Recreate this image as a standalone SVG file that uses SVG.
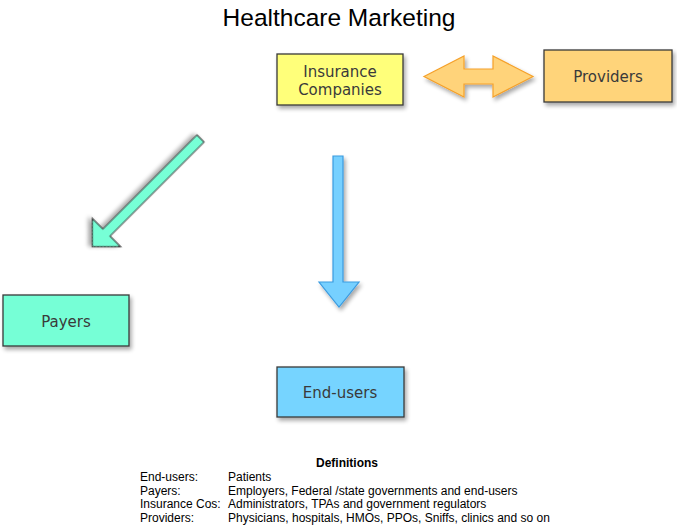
<svg xmlns="http://www.w3.org/2000/svg" width="677" height="527" viewBox="0 0 677 527">
<defs>
<filter id="sh" x="-20%" y="-20%" width="150%" height="160%">
<feGaussianBlur in="SourceAlpha" stdDeviation="2"/>
<feOffset dx="2" dy="3" result="b"/>
<feComponentTransfer><feFuncA type="linear" slope="0.35"/></feComponentTransfer>
<feMerge><feMergeNode/><feMergeNode in="SourceGraphic"/></feMerge>
</filter>
</defs>
<style>
.box{stroke:#3a3a3a;stroke-width:1.3;filter:url(#sh)}
.lbl{font-family:"DejaVu Sans",Verdana,sans-serif;font-size:15px;fill:#3a3a3a;text-anchor:middle}
.def{font-family:"Liberation Sans",Arial,sans-serif;font-size:12px;fill:#000}
</style>
<rect width="677" height="527" fill="#fff"/>
<text x="339" y="26" font-family="Liberation Sans, Arial, sans-serif" font-size="24.5" text-anchor="middle" fill="#000">Healthcare Marketing</text>
<g id="connectors">
<path d="M424,76.5 L464,56 L464,69 L493,69 L493,56 L533,76.5 L493,97 L493,84 L464,84 L464,97 Z" fill="#ffd37a" stroke="#f5a12a" stroke-width="1.2" filter="url(#sh)"/>
<path d="M0,-5 L133,-5 L133,-20 L153,0 L133,20 L133,5 L0,5 Z" transform="translate(200.5,138.5) rotate(135)" fill="#77ffd6" stroke="#3a3a3a" stroke-width="1.2" filter="url(#sh)"/>
<path d="M333,156 L343,156 L343,282 L359,282 L339,307 L319,282 L333,282 Z" fill="#76d0ff" stroke="#3a9be0" stroke-width="1.2" filter="url(#sh)"/>
</g>
<g id="insurance">
<rect class="box" x="277" y="54" width="126" height="51" fill="#ffff7a"/>
<text class="lbl" x="340" y="77">Insurance</text>
<text class="lbl" x="340" y="95">Companies</text>
</g>
<g id="providers">
<rect class="box" x="544" y="50" width="128" height="52" fill="#ffd47a"/>
<text class="lbl" x="608" y="82">Providers</text>
</g>
<g id="payers">
<rect class="box" x="3" y="295" width="126" height="51" fill="#76ffd6"/>
<text class="lbl" x="66" y="327">Payers</text>
</g>
<g id="endusers">
<rect class="box" x="277" y="367" width="127" height="50" fill="#76d4ff"/>
<text class="lbl" x="340" y="398">End-users</text>
</g>
<g id="definitions" class="def">
<text x="347" y="467" text-anchor="middle" font-weight="bold">Definitions</text>
<text x="140" y="481">End-users:</text><text x="228" y="481">Patients</text>
<text x="140" y="495">Payers:</text><text x="228" y="495">Employers, Federal /state governments and end-users</text>
<text x="140" y="508">Insurance Cos:</text><text x="228" y="508">Administrators, TPAs and government regulators</text>
<text x="140" y="522">Providers:</text><text x="228" y="522">Physicians, hospitals, HMOs, PPOs, Sniffs, clinics and so on</text>
</g>
</svg>
